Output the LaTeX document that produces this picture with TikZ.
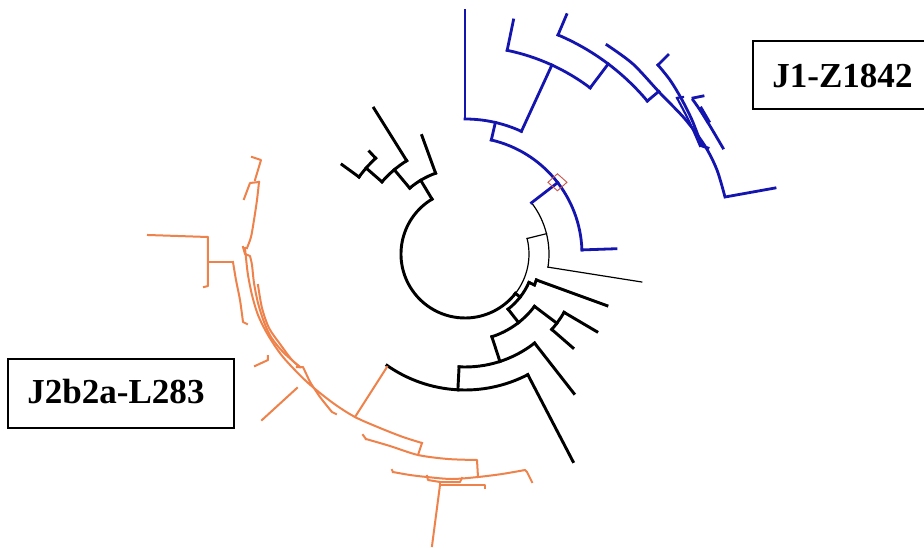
\documentclass[tikz,border=0pt]{standalone}
\usepackage{fontspec}
\setmainfont{Liberation Serif}
\definecolor{treeblue}{RGB}{20,20,175}
\definecolor{treeorange}{RGB}{238,130,74}
\definecolor{markred}{RGB}{200,90,80}
\begin{document}
\begin{tikzpicture}[x=0.75pt,y=0.75pt,
  blk/.style={draw=black,line width=2.2pt,line cap=rect},
  thinblk/.style={draw=black,line width=0.9pt,line cap=rect},
  blu/.style={draw=treeblue,line width=2.1pt,line cap=rect},
  org/.style={draw=treeorange,line width=1.5pt,line cap=rect,line join=round},
  labelbox/.style={draw=black,line width=1.4pt},
  labeltext/.style={font=\fontsize{26.3}{30}\selectfont\bfseries,inner sep=0pt}]
% ---------- pixel frame (y down) ----------
\begin{scope}[shift={(-465,254)},yscale=-1]
  \useasboundingbox (0,0) rectangle (924,543);
  \fill[white] (0,0) rectangle (924,543);
  \draw[labelbox] (753,41) rectangle (930,109);
  \node[labeltext,anchor=base west] (lab1) at (772,87) {J1-Z1842};
  \draw[labelbox] (8,359) rectangle (234,428);
  \node[labeltext,anchor=base west] (lab2) at (27,403) {J2b2a-L283};
\end{scope}
% ---------- black tree (polar, centre = origin) ----------
\draw[blk] (121:64) arc[start angle=121,end angle=322,radius=64];
\draw[thinblk] (-38:64) arc[start angle=-38,end angle=14,radius=64];
\foreach \a/\b/\r in {110/130/86, 122/139/110, 133/144/131,
    -52/-24/70, -24/-20/76, -72/-37/87, -41/-30.5/115, -93/-52/113, -125/-62.5/136}
  \draw[blk] (\a:\r) arc[start angle=\a,end angle=\b,radius=\r];
\foreach \a/\r/\s in {121/64/86, 110/86/126, 130/86/110, 122/110/172, 139/110/131,
    133/131/140, 144/131/152,
    -38/64/70, -24/70/76, -20/76/151, -52/70/87, -37/87/115, -41/115/143,
    -30.5/115/153, -72/87/113, -52/113/177, -93/113/136, -62.5/136/234}
  \draw[blk] (\a:\r) -- (\a:\s);
\draw[thinblk] (14:64) -- (14:84);
\draw[thinblk] (-9:84) arc[start angle=-9,end angle=37.6,radius=84];
\draw[thinblk] (-9:84) -- (-9:179);
% ---------- blue clade ----------
\foreach \a/\b/\r in {2/77/117, 65.3/90/135, 53/78.3/208, 40/67/238}
  \draw[blu] (\a:\r) arc[start angle=\a,end angle=\b,radius=\r];
\foreach \a/\r/\s in {37.6/84/117, 2/117/151, 77/117/135, 90/135/244, 65.3/135/208,
    78.3/208/239, 53/208/238, 67/238/260, 40/238/253}
  \draw[blu] (\a:\r) -- (\a:\s);
\draw[markred,line width=0.7pt] ([shift={(37.8:117)}]-9.5,0) -- ++(9.5,8.5) -- ++(9.5,-8.5) -- ++(-9.5,-8.5) -- cycle;
\begin{scope}[shift={(-465,254)},yscale=-1]
  \draw[blu] plot[smooth] coordinates {(607,45) (633,64) (660,93) (685,119) (705,146) (717,170) (725,197)} -- (775,188);
  \draw[blu] (668,55) -- (658,65);
  \draw[blu] plot[smooth] coordinates {(658,65) (670,80) (681,98) (692,120) (702,146)} -- (708,148);
  \draw[blu,line width=1.6pt] (677,98) -- (683,97);
  \draw[blu,line width=1.6pt] plot[smooth] coordinates {(677,98) (689,121) (700,146)};
  \draw[blu] (693,98) -- (703,96);
  \draw[blu] plot[smooth] coordinates {(693,100) (700,110) (710,126) (723,148)};
  \draw[blu,line width=3.2pt] (701,109) -- (708,121);
% ---------- orange clade ----------
  \draw[org] (387,367) -- (355,417);
  \draw[org] plot[smooth] coordinates {(422,443) (403,437) (380,428) (355,417) (333,403) (307,382) (283,357) (268,335) (258,315) (252,295) (248,275) (246,258) (245,248)};
  \draw[org] plot[smooth] coordinates {(300,367) (283,352) (271,337) (264,322) (258,303) (254,283) (252,265) (250,256)} -- (245,254) -- (243,247);
  \draw[org] plot[smooth] coordinates {(258,285) (262,308) (269,328) (280,344) (292,360) (300,367)};
  \draw[org] (297,367) -- (303,367) -- (310,382);
  \draw[org] plot[smooth] coordinates {(310,382) (320,397) (332,412)} -- (336,414);
  \draw[org] (244,199) -- (250,183) -- (259,182);
  \draw[org] plot[smooth] coordinates {(259,182) (257,200) (254,220) (251,237) (247,248)};
  \draw[org] (252,157) -- (261,160) -- (258,170) -- (255,180);
  \draw[org] (297,388) -- (262,420);
  \draw[org] (255,366) -- (268,360) -- (268,356);
  \draw[org] (148,235) -- (208,237) -- (208,286) -- (204,287);
  \draw[org] (208,262) -- (233,262);
  \draw[org] plot[smooth] coordinates {(233,262) (236,280) (240,300) (243,322)} -- (247,324);
  \draw[org] (422,443) -- (418,455);
  \draw[org] (363,435) -- (366,439);
  \draw[org] plot[smooth] coordinates {(366,439) (390,446) (418,455) (448,459) (477,460)} -- (478,477);
  \draw[org] (392,470) -- (393,472);
  \draw[org] plot[smooth] coordinates {(393,472) (410,475) (427,477) (452,479) (478,477) (502,474) (525,470)} -- (527,472) -- (532,482);
  \draw[org] (427,476) -- (428,480) -- (440,482) -- (460,482) -- (462,478);
  \draw[org] (440,482) -- (440,485) -- (485,485) -- (485,488);
  \draw[org] (440,485) -- (432,546);
\end{scope}
\end{tikzpicture}
\end{document}
